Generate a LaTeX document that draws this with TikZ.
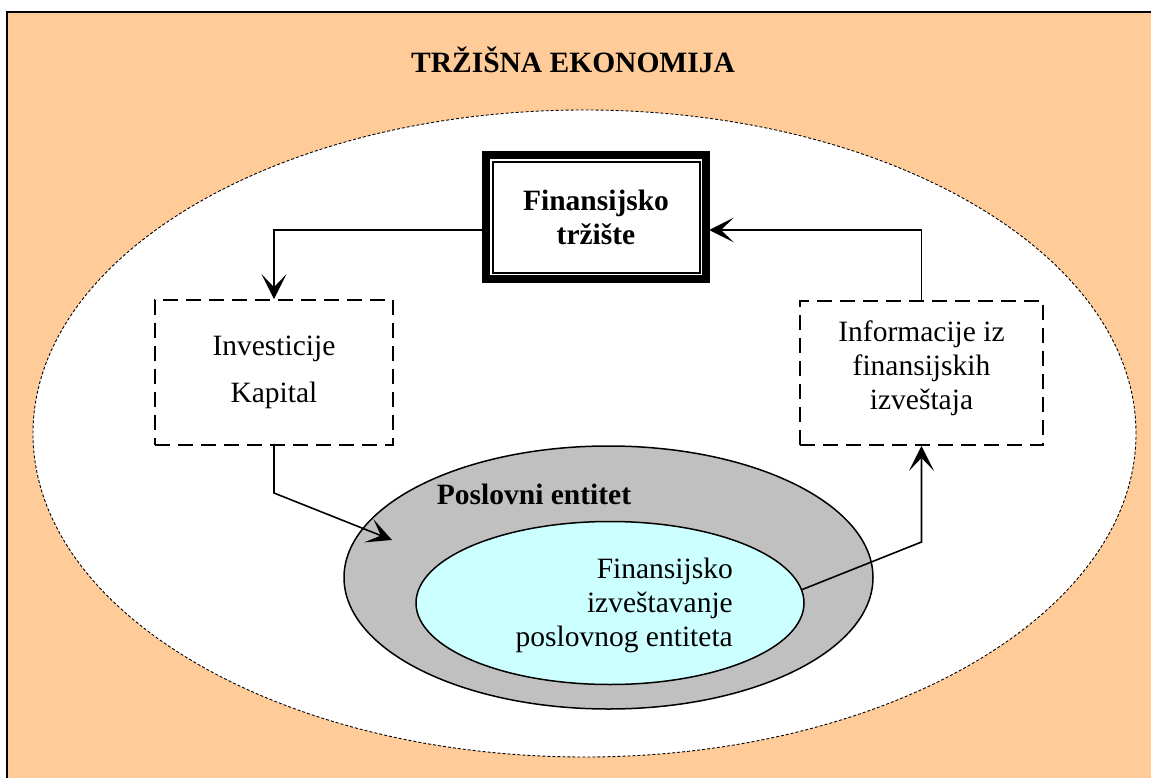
\documentclass[tikz,border=0pt]{standalone}
\usepackage{fontspec}
\setmainfont{Liberation Serif}
\usetikzlibrary{shapes.geometric,calc}
\definecolor{bgorange}{RGB}{255,204,153}
\definecolor{entgray}{RGB}{192,192,192}
\definecolor{repcyan}{RGB}{204,255,255}
\begin{document}
\begin{tikzpicture}[x=1pt,y=1pt,
  every node/.style={font=\fontsize{29.5}{34}\selectfont, inner sep=0pt},
  dashbox/.style={draw, line width=1.8pt, dash pattern=on 15pt off 8pt, fill=white, align=center},
  conn/.style={draw=black, line width=1.6pt},
  headtip/.pic={\fill[black] (0,0) -- (-25,12.5) -- (-12,0) -- (-25,-12.5) -- cycle;},
  oval/.style={ellipse, draw, line width=1.5pt}]
\clip (0,0) rectangle (1151,-778);
% background frame
\fill[bgorange] (7,-12) rectangle (1170,-800);
\draw[line width=2pt] (7,-12) rectangle (1170,-800);
\node (title) at (573,-60) {\bfseries TRŽIŠNA EKONOMIJA};
% market ellipse
\node (market) [ellipse, draw, fill=white, dash pattern=on 3pt off 2pt, line width=0.9pt,
  minimum width=1103, minimum height=647] at (584.5,-433.5) {};
% financial market box
\node (ftr) [draw, line width=8pt, outer sep=0pt, fill=white, minimum width=220, minimum height=124, align=center]
  at (596,-217) {\bfseries Finansijsko\\\bfseries tržište};
\draw[line width=1.2pt] ($(ftr.north west)+(7,-7)$) rectangle ($(ftr.south east)+(-6,6)$);
% dashed boxes
\node (inv) [dashbox, minimum width=238, minimum height=145] at (274,-372.5)
  {Investicije\\[13pt]Kapital};
\node (info) [dashbox, minimum width=243, minimum height=144] at (921.5,-373)
  {Informacije iz\\finansijskih\\izveštaja\\[-18pt]\mbox{}};
% business entity
\node (entity) [oval, fill=entgray, minimum width=529, minimum height=263] at (608.5,-577.5) {};
\node (enttext) at (534,-494) {\bfseries Poslovni entitet};
\node (report) [oval, fill=repcyan, minimum width=388, minimum height=163] at (610,-603) {};
\node (reptext) [anchor=east, align=right] at (733,-605)
  {Finansijsko\\izveštavanje\\poslovnog entiteta};
% connectors
\coordinate (intip) at (392,-540);
\coordinate (inbend) at (274,-493);
\coordinate (outbend) at (921.5,-542);
\coordinate (ftrin) at ($(ftr.east)+(3,-13)$);
\draw[conn] ($(ftr.west)+(0,-13)$) -| ($(inv.north)+(0,8)$);
\draw[conn] (inv.south) -- (inbend) -- ($(inbend)!0.92!(intip)$);
\draw[conn] (report.4) -- (outbend) -- ($(info.south)+(0,-8)$);
\draw[conn] (info.north) |- ($(ftrin)+(8,0)$);
\pic[rotate=-90] at (inv.north) {headtip};
\pic[rotate=-21.7] at (intip) {headtip};
\pic[rotate=90] at (info.south) {headtip};
\pic[rotate=180] at (ftrin) {headtip};
\end{tikzpicture}
\end{document}
